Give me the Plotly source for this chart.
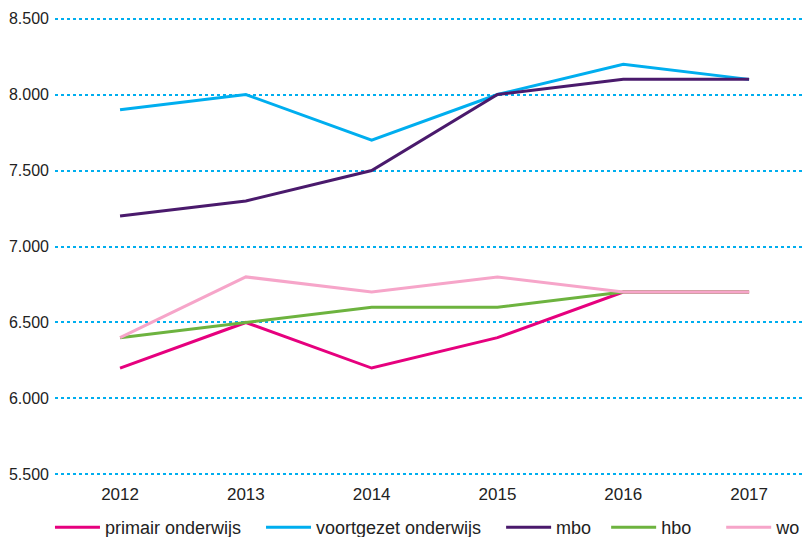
import plotly.graph_objects as go

years = ['2012', '2013', '2014', '2015', '2016', '2017']

primair = [6200, 6500, 6200, 6400, 6700, 6700]
voortgezet = [7900, 8000, 7700, 8000, 8200, 8100]
mbo = [7200, 7300, 7500, 8000, 8100, 8100]
hbo = [6400, 6500, 6600, 6600, 6700, 6700]
wo = [6400, 6800, 6700, 6800, 6700, 6700]

# name, values, colour, trailing padding for the legend spacing
series = [
    ('primair onderwijs', primair, '#E6007E', 3),
    ('voortgezet onderwijs', voortgezet, '#00AEEF', 3),
    ('mbo', mbo, '#4A1A6C', 2),
    ('hbo', hbo, '#6DB33F', 5),
    ('wo', wo, '#F6A5C9', 0),
]

fig = go.Figure()
for name, vals, color, pad in series:
    fig.add_trace(go.Scatter(
        x=years, y=vals, name=name + '\u00a0' * pad, mode='lines',
        line=dict(color=color, width=3)
    ))

# page body has an 8px margin, so the figure is 8px smaller than the window
fig.update_layout(
    width=804, height=529,
    margin=dict(l=47, r=0, t=3, b=55),
    plot_bgcolor='white',
    paper_bgcolor='white',
    separators=',.',
    font=dict(family='Liberation Sans, Arial, sans-serif', size=16, color='#222222'),
    showlegend=True,
    legend=dict(
        orientation='h', x=0.0522, xanchor='left', xref='container',
        y=0.053, yanchor='top', yref='container',
        font=dict(size=18), itemwidth=45, tracegroupgap=0
    ),
)
fig.update_xaxes(
    type='category', range=[-0.517, 5.5],
    showgrid=False, showline=False, zeroline=False, ticks='',
    tickfont=dict(size=17), automargin=False
)
fig.update_yaxes(
    range=[5450, 8550], tickvals=[5500, 6000, 6500, 7000, 7500, 8000, 8500],
    tickformat=',.0f', showgrid=True, gridcolor='#00AEEF', gridwidth=1.5,
    griddash='dot', zeroline=False, showline=False, ticks='',
    ticklabelstandoff=5, automargin=False
)

fig.write_html('out.html')
